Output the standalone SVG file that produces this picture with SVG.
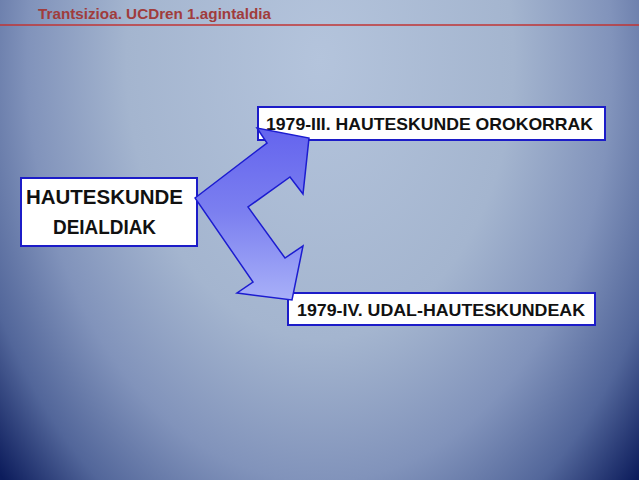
<svg xmlns="http://www.w3.org/2000/svg" width="639" height="480" viewBox="0 0 639 480">
<defs>
<radialGradient id="bg" gradientUnits="userSpaceOnUse" cx="0" cy="0" r="1" gradientTransform="translate(320,60) scale(430,620)">
<stop offset="0" stop-color="#b4c4dc"/>
<stop offset="0.45" stop-color="#a4b5cf"/>
<stop offset="0.68" stop-color="#8193bb"/>
<stop offset="0.85" stop-color="#52669a"/>
<stop offset="1" stop-color="#0c1c5c"/>
</radialGradient>
<linearGradient id="arr" x1="0" y1="0" x2="0" y2="1">
<stop offset="0" stop-color="#6464ee"/>
<stop offset="0.5" stop-color="#7c80f0"/>
<stop offset="1" stop-color="#a8b0f8"/>
</linearGradient>
<style>
.box{fill:#ffffff;stroke:#1c1cc8;stroke-width:2}
.t{font-family:"Liberation Sans",Arial,sans-serif;font-weight:bold;fill:#111111}
</style>
</defs>
<rect x="0" y="0" width="639" height="480" fill="url(#bg)"/>
<text x="38" y="19" font-family="'Liberation Sans',Arial,sans-serif" font-weight="bold" font-size="15" fill="#a03c3c" textLength="233" lengthAdjust="spacingAndGlyphs">Trantsizioa. UCDren 1.agintaldia</text>
<line x1="0" y1="25" x2="639" y2="25" stroke="#c03434" stroke-width="1.5"/>
<g id="node-deialdiak">
<rect class="box" x="21" y="178" width="176" height="68"/>
<text class="t" x="26" y="204" font-size="20" textLength="157" lengthAdjust="spacingAndGlyphs">HAUTESKUNDE</text>
<text class="t" x="53" y="234" font-size="20" textLength="103" lengthAdjust="spacingAndGlyphs">DEIALDIAK</text>
</g>
<g id="node-orokorrak">
<rect class="box" x="258" y="107" width="347" height="33"/>
<text class="t" x="266" y="130" font-size="17" textLength="327" lengthAdjust="spacingAndGlyphs">1979-III. HAUTESKUNDE OROKORRAK</text>
</g>
<g id="node-udal">
<rect class="box" x="288" y="293" width="307" height="32"/>
<text class="t" x="297" y="316" font-size="17" textLength="288" lengthAdjust="spacingAndGlyphs">1979-IV. UDAL-HAUTESKUNDEAK</text>
</g>
<g id="connectors">
<path d="M195,198 L267,143 L257,128 L309,138 L303,194 L290,177 L248,207 L285,258 L303,246 L292,300 L237,293 L253,282 Z" fill="url(#arr)" stroke="#1c1cd0" stroke-width="1.5" stroke-linejoin="miter"/>
</g>
</svg>
